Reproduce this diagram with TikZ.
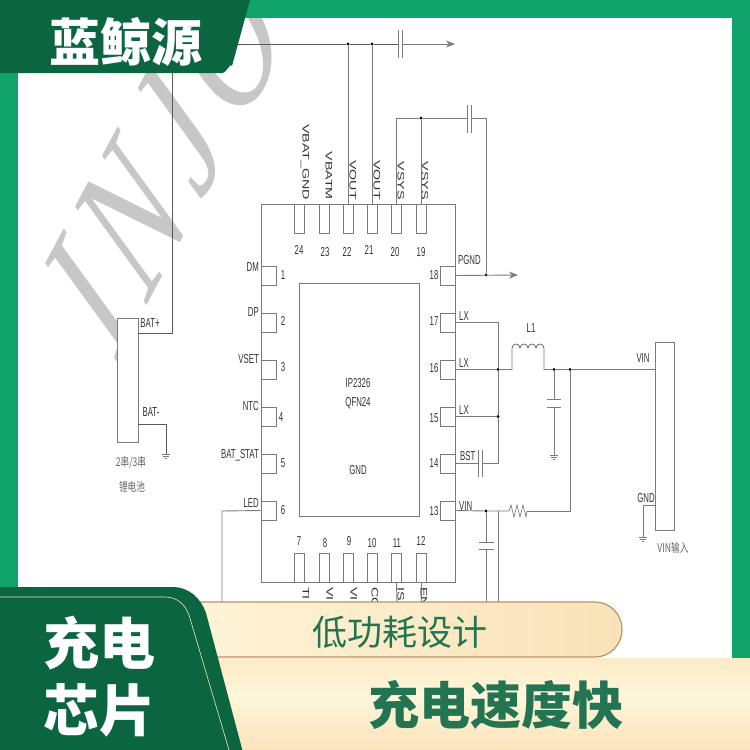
\documentclass[tikz,border=0pt]{standalone}
\usepackage{fontspec}
\usepackage{tikz}
\usetikzlibrary{arrows.meta}
\newfontfamily\cjk{Noto Sans CJK SC}
\newfontfamily\cjkthin[FakeStretch=0.72]{Noto Sans CJK SC}
\newfontfamily\pinfont[FakeStretch=0.6]{Liberation Sans}
\newfontfamily\widefont[FakeStretch=1.5]{Liberation Sans}
\newfontfamily\markfont[LetterSpace=10]{Liberation Serif}
\newcommand{\fs}[1]{\fontsize{#1}{#1}\selectfont}
\definecolor{framegreen}{HTML}{10A36C}
\definecolor{darkgreen}{HTML}{0B6540}
\definecolor{wiregray}{HTML}{7A7A7A}
\definecolor{creamlight}{HTML}{FFF6DA}
\definecolor{creammid}{HTML}{F9E2B8}
\definecolor{creamdark}{HTML}{D8AD7E}
\pgfdeclareverticalshading{bandfade}{100bp}{color(0bp)=(creamdark); color(22bp)=(creammid); color(55bp)=(creamlight); color(88bp)=(creammid); color(100bp)=(creammid)}
\tikzset{
  wire/.style={draw=wiregray, line width=0.9pt},
  thinwire/.style={draw=black!65, line width=0.7pt},
  padbox/.style={draw=wiregray, fill=white, line width=0.9pt, minimum width=#1, inner sep=0pt},
  padtop/.style={padbox=10pt, minimum height=29pt},
  padside/.style={padbox=15pt, minimum height=19pt},
  junction/.style={circle, fill=black, inner sep=0pt, minimum size=3.4pt},
  pinlabel/.style={inner sep=0pt, text=black!80, font=\pinfont\fs{13}},
  sidelabel/.style={inner sep=0pt, rotate=-90, text=black!80, font=\widefont\fs{9.5}},
  cjklabel/.style={inner sep=0pt, text=black!60, font=\cjkthin\fs{12}}
}
\newcommand{\gndsym}[1]{\draw[wire, line width=0.7pt, shift={(#1)}] (-4,0) -- (4,0) (-2.6,2.2) -- (2.6,2.2) (-1,4.4) -- (1,4.4);}
\begin{document}
\begin{tikzpicture}[x=1pt, y=-1pt]
  \useasboundingbox (0,0) rectangle (750,750);
  \fill[white] (0,0) rectangle (750,750);

  % watermark
  \node[rotate=62, xslant=0.33, xscale=0.9, transform shape, anchor=base west, inner sep=0pt, text=black!22, font=\markfont\itshape\fs{167}] (mark) at (117,362) {INJO};

  % frame
  \fill[framegreen] (0,0) rectangle (750,18);
  \fill[framegreen] (0,0) rectangle (18,620);
  \fill[framegreen] (732,0) rectangle (750,665);

  % chip body
  \node[draw=wiregray, line width=1pt, minimum width=194pt, minimum height=378pt, inner sep=0pt] (chip) at (358,393) {};
  \node[draw=wiregray, line width=0.9pt, minimum width=120pt, minimum height=233pt, inner sep=0pt] (core) at (359,399.5) {};

  \foreach \num/\xpos in {24/299.5, 23/324, 22/348, 21/372, 20/396.5, 19/421} {
    \node[padtop] (p\num) at (\xpos,218.5) {};
  }
  \foreach \num/\xpos in {7/299.5, 8/324, 9/348, 10/372, 11/396.5, 12/421} {
    \node[padtop] (p\num) at (\xpos,567.5) {};
  }
  \foreach \num/\ypos in {1/275.5, 2/322.5, 3/369.5, 4/416.5, 5/463.5, 6/510.5} {
    \node[padside] (p\num) at (268.5,\ypos) {};
  }
  \foreach \num/\ypos in {18/275.5, 17/322.5, 16/369.5, 15/416.5, 14/463.5, 13/510.5} {
    \node[padside] (p\num) at (447.5,\ypos) {};
  }

  % pin numbers
  \foreach \num/\xpos/\ypos in {24/299/250, 23/325/252, 22/347/252, 21/369/250, 20/395/252, 19/421/252,
      7/299/541, 8/325/543, 9/349/541, 10/372/543, 11/397/543, 12/421/541,
      1/283/275, 2/283/321, 3/283/367, 4/281/417, 5/283/463, 6/283/510,
      18/434/275, 17/434/321, 16/434/368, 15/434/418, 14/434/463, 13/434/511} {
    \node[pinlabel] (n\num) at (\xpos,\ypos) {\num};
  }

  % pin names
  \foreach \name/\txt/\ypos in {dm/DM/267, dp/DP/312, vset/VSET/359, ntc/NTC/406, stat/BAT\_STAT/455, led/LED/503} {
    \node[pinlabel, anchor=east] (l\name) at (259,\ypos) {\txt};
  }
  \foreach \name/\txt/\xpos/\ypos in {pgnd/PGND/458/260, lxa/LX/459/316, lxb/LX/459/363, lxc/LX/459/410, bst/BST/460/456, vinb/VIN/459/506} {
    \node[pinlabel, anchor=west] (l\name) at (\xpos,\ypos) {\txt};
  }
  \foreach \name/\txt/\xpos in {vbg/VBAT\_GND/305, vbm/VBATM/329, vo/VOUT/353, vt/VOUT/377, va/VSYS/401, vb/VSYS/425} {
    \node[sidelabel, anchor=east] (l\name) at (\xpos,200) {\txt};
  }
  \foreach \name/\txt/\xpos in {ti/TI/306, via/VI/330, vic/VI/354, co/CO/375, is/IS/401, en/EN/424} {
    \node[sidelabel, anchor=west] (l\name) at (\xpos,587) {\txt};
  }
  \node[pinlabel] (lic) at (358,383) {IP2326};
  \node[pinlabel] (lqfn) at (358,403) {QFN24};
  \node[pinlabel] (lgnd) at (358,470) {GND};

  % battery
  \node[draw=wiregray, fill=white, line width=1pt, minimum width=21pt, minimum height=124pt, inner sep=0pt] (batt) at (127.5,380) {};
  \node[pinlabel] (lbatp) at (150,323) {BAT+};
  \node[pinlabel] (lbatm) at (151,412) {BAT-};
  \node[cjklabel] (lser) at (131,463) {2串/3串};
  \node[cjklabel] (lli) at (132,487) {锂电池};
  \coordinate (batp) at (138,333);
  \coordinate (batm) at (138,424);
  \coordinate (batg) at (166,454);
  \draw[thinwire] (batp) -- (172,333) -- (172,44);
  \draw[thinwire] (batm) -- (166,424) -- (batg);
  \gndsym{batg}

  % top rail
  \node[junction] (ja) at (348,44) {};
  \node[junction] (jb) at (372,44) {};
  \coordinate (capa) at (398,44);
  \coordinate (capb) at (402,44);
  \coordinate (rail) at (455,44);
  \draw[thinwire] (172,44) -- (ja) -- (jb) -- (capa);
  \draw[wire, -{Stealth[length=9pt, width=7pt]}] (capb) -- (rail);
  \draw[wire] (398,30) -- (398,58) (402,30) -- (402,58);
  \draw[wire] (ja) -- (p22.north);
  \draw[wire] (jb) -- (p21.north);

  % VSYS and PGND
  \node[junction] (jc) at (421,118) {};
  \node[junction] (jd) at (486,275) {};
  \coordinate (vs) at (396.5,118);
  \coordinate (pg) at (518,275);
  \draw[wire] (p20.north) -- (vs) -- (jc) -- (467,118);
  \draw[wire] (jc) -- (p19.north);
  \draw[wire] (467,105) -- (467,133) (471,105) -- (471,133);
  \draw[wire] (471,118) -- (486,118) -- (jd);
  \draw[wire, -{Stealth[length=9pt, width=7pt]}] (p18.east) -- (pg);

  % LX group
  \node[junction] (je) at (498,369.5) {};
  \node[junction] (jf) at (498,416.5) {};
  \coordinate (lxtop) at (498,322.5);
  \coordinate (lxbot) at (498,463.5);
  \draw[wire] (p17.east) -- (lxtop) -- (je) -- (jf) -- (lxbot) -- (482,463.5);
  \draw[wire] (p15.east) -- (jf);
  \draw[wire] (p14.east) -- (478,463.5);
  \draw[wire] (478,450) -- (478,477) (482,450) -- (482,477);

  % inductor
  \node[pinlabel] (ll1) at (531,328) {L1};
  \node[junction] (jg) at (554,369.5) {};
  \node[junction] (jh) at (570,369.5) {};
  \draw[wire] (p16.east) -- (je) -- (512,369.5) -- (512,348)
    arc (180:360:4) arc (180:360:4) arc (180:360:4) arc (180:360:4) -- (544,369.5) -- (jg) -- (jh);

  % input capacitor
  \coordinate (gndc) at (554,455);
  \draw[wire] (jg) -- (554,399.5);
  \draw[wire] (547,399.5) -- (561,399.5) (547,407) -- (561,407);
  \draw[wire] (554,407) -- (gndc);
  \gndsym{gndc}

  % VIN connector
  \node[draw=wiregray, fill=white, line width=1pt, minimum width=19pt, minimum height=188pt, inner sep=0pt] (conn) at (664.5,436) {};
  \node[pinlabel] (lvin) at (643,358) {VIN};
  \node[pinlabel] (lgnc) at (646,498) {GND};
  \node[cjklabel] (lvi) at (673,548) {VIN输入};
  \coordinate (vinp) at (655,369.5);
  \coordinate (gnp) at (655,505);
  \coordinate (gnq) at (643,537);
  \draw[wire] (jh) -- (vinp);
  \draw[wire] (gnp) -- (643,505) -- (gnq);
  \gndsym{gnq}

  % VIN resistor
  \node[junction] (ji) at (486,511) {};
  \coordinate (resa) at (509,511);
  \coordinate (resb) at (527,511);
  \draw[wire] (p13.east) -- (ji) -- (resa);
  \draw[wire, line width=0.7pt] (resa) -- (511,505) -- (514,517) -- (517,505) -- (520,517) -- (523,505) -- (526,517) -- (resb);
  \draw[wire] (resb) -- (570,511) -- (jh);

  % lines going under the banner
  \draw[wire] (ji) -- (486,542);
  \draw[wire] (479,542) -- (494,542) (479,549) -- (494,549);
  \draw[wire] (486,549) -- (486,604);
  \draw[wire] (498,511) -- (498,604);
  \draw[wire] (p6.west) -- (222,511) -- (222,604);
  \draw[wire] (p11.south) -- (397,604);
  \draw[wire] (p12.south) -- (421,604);

  % banners
  \fill[darkgreen] (0,0) -- (250,0) -- (232,66) to[out=105, in=0] (222,73) -- (0,73) -- cycle;
  \node[inner sep=0pt, text=white, font=\cjk\bfseries\fs{51}] (brand) at (126,42) {蓝鲸源};

  \shade[shading=bandfade] (200,658) rectangle (750,750);
  \path[left color=creamlight, right color=creammid, draw=creamdark!85!black, line width=1.2pt, rounded corners=27pt] (150,602) rectangle (622,657);
  \node[inner sep=0pt, text=darkgreen!90!white, font=\cjk\fs{35}] (tagone) at (400,632) {低功耗设计};
  \node[inner sep=0pt, text=darkgreen!90!white, font=\cjk\bfseries\fs{51}] (tagtwo) at (496,705) {充电速度快};

  \fill[darkgreen] (0,587) -- (172,587) to[out=0, in=110] (206,613) -- (245,760) -- (0,760) -- cycle;
  \draw[creammid, line width=0.6pt] (0,597) -- (165,597) to[out=0, in=110] (189,615) -- (232,760);
  \node[inner sep=0pt, text=white, align=left, font=\cjk\bfseries\fs{56}] (titlea) at (99,643) {充电};
  \node[inner sep=0pt, text=white, align=left, font=\cjk\bfseries\fs{56}] (titleb) at (99,710) {芯片};
\end{tikzpicture}
\end{document}
